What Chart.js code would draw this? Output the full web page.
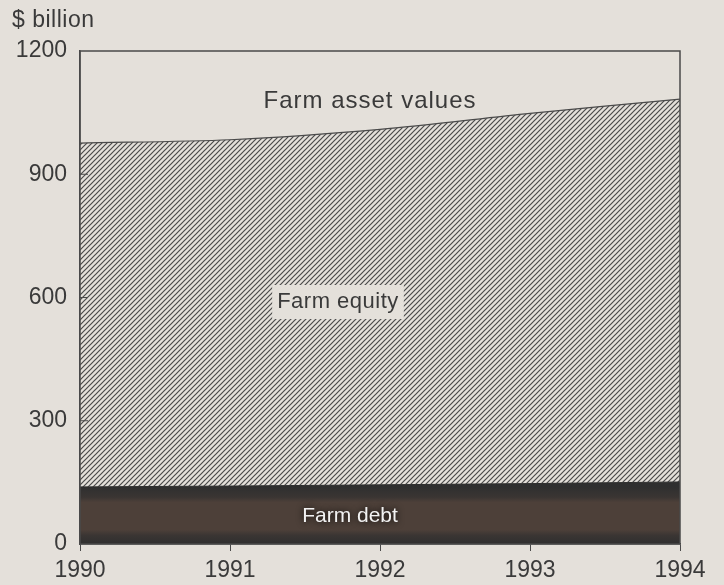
<!DOCTYPE html>
<html>
<head>
<meta charset="utf-8">
<script src="https://cdn.jsdelivr.net/npm/chart.js@4.4.1/dist/chart.umd.min.js"></script>
<style>
  html, body { margin: 0; padding: 0; background: #e4e0da; }
  #wrap { width: 724px; height: 585px; position: relative; }
</style>
</head>
<body>
<div id="wrap"><canvas id="my-chart"></canvas></div>
<script>
'use strict';

// ***** DATA *****

let years = ['1990', '1991', '1992', '1993', '1994'];
let farmDebt = [139, 141, 144, 147, 151];
let farmAssets = [976, 984, 1009, 1048, 1083];
let yTicks = [0, 300, 600, 900, 1200];

let bg = '#e4e0da';
let ink = '#3a3a3a';
let font = 'Liberation Sans, Arial, Helvetica, sans-serif';

// ***** HATCH PATTERN *****

function makeHatch(){
  let c = document.createElement('canvas');
  c.width = 5;
  c.height = 5;
  let g = c.getContext('2d');
  g.fillStyle = bg;
  g.fillRect(0, 0, 5, 5);
  g.strokeStyle = '#4a4a4a';
  g.lineWidth = 1.2;
  g.beginPath();
  g.moveTo(-1, 6); g.lineTo(6, -1);
  g.moveTo(-1, 1); g.lineTo(1, -1);
  g.moveTo(4, 6); g.lineTo(6, 4);
  g.stroke();
  return g.createPattern(c, 'repeat');
}

// debt band: dark edges, brown middle
function debtFill(context){
  let chart = context.chart;
  let area = chart.chartArea;
  if(!area) return '#3a3636';
  let top = chart.scales.y.getPixelForValue(farmDebt[0]);
  let gr = chart.ctx.createLinearGradient(0, top, 0, area.bottom);
  gr.addColorStop(0, '#2f2f2f');
  gr.addColorStop(0.18, '#3a3533');
  gr.addColorStop(0.27, '#4d4039');
  gr.addColorStop(0.75, '#4d4039');
  gr.addColorStop(0.85, '#3a3533');
  gr.addColorStop(1, '#2f2f2f');
  return gr;
}

// ***** PLUGIN: border, inner ticks, labels *****

let decor = {
  id: 'decor',
  afterDatasetsDraw(chart){
    let ctx = chart.ctx;
    let a = chart.chartArea;
    let y = chart.scales.y;
    ctx.save();

    // plot frame
    ctx.strokeStyle = '#4a4a4a';
    ctx.lineWidth = 1.5;
    ctx.strokeRect(a.left, a.top, a.right - a.left, a.bottom - a.top);

    // y ticks pointing inward
    ctx.lineWidth = 1;
    for(let i = 1; i < yTicks.length - 1; i++){
      let py = y.getPixelForValue(yTicks[i]);
      ctx.beginPath();
      ctx.moveTo(a.left, py);
      ctx.lineTo(a.left + 8, py);
      ctx.stroke();
    }

    // unit label
    ctx.fillStyle = ink;
    ctx.font = '23px ' + font;
    ctx.letterSpacing = '0.5px';
    ctx.textAlign = 'left';
    ctx.textBaseline = 'alphabetic';
    ctx.fillText('$ billion', 12, 27);

    ctx.textAlign = 'center';
    ctx.textBaseline = 'middle';

    // asset label
    ctx.font = '24px ' + font;
    ctx.letterSpacing = '1px';
    ctx.fillStyle = ink;
    ctx.fillText('Farm asset values', 370, 101);

    // equity label with plain box
    ctx.font = '22px ' + font;
    ctx.letterSpacing = '0.5px';
    let ex = 338;
    let ey = 302;
    let w = ctx.measureText('Farm equity').width;
    ctx.fillStyle = bg;
    ctx.fillRect(ex - w / 2 - 5, ey - 17, w + 10, 34);
    ctx.fillStyle = ink;
    ctx.fillText('Farm equity', ex, ey);

    // debt label, white with dark glow
    let dy = (y.getPixelForValue(farmDebt[2]) + a.bottom) / 2 + 2;
    ctx.font = '21px ' + font;
    ctx.letterSpacing = '0px';
    ctx.shadowColor = 'rgba(0,0,0,0.95)';
    ctx.shadowBlur = 7;
    ctx.fillStyle = '#f2f2f2';
    ctx.fillText('Farm debt', 350, dy);
    ctx.restore();
  }
};

// ***** CHART *****

let ctx = document.getElementById('my-chart').getContext('2d');

let myChartObj = {
  type: 'line',
  data: {
    labels: years,
    datasets: [{
      label: 'Farm debt',
      data: farmDebt,
      fill: 'origin',
      backgroundColor: debtFill,
      borderColor: '#2f2f2f',
      borderWidth: 1,
      pointRadius: 0,
      tension: 0
    },
    {
      label: 'Farm asset values',
      data: farmAssets,
      fill: '-1',
      backgroundColor: makeHatch(),
      borderColor: '#4a4a4a',
      borderWidth: 1.2,
      pointRadius: 0,
      tension: 0.3
    }]
  },
  options: {
    responsive: true,
    maintainAspectRatio: false,
    animation: false,
    layout: { padding: { top: 51, right: 44, left: 0, bottom: 0 } },
    plugins: { legend: { display: false }, tooltip: { enabled: false } },
    scales: {
      x: {
        offset: false,
        grid: { drawOnChartArea: false, tickLength: 7, color: '#4a4a4a', lineWidth: 1 },
        border: { color: '#4a4a4a', width: 1.5 },
        ticks: { color: ink, font: { family: font, size: 23 }, padding: 6, maxRotation: 0 },
        afterFit(s){ s.height = 41; }
      },
      y: {
        min: 0,
        max: 1200,
        afterBuildTicks(s){ s.ticks = yTicks.map(v => ({ value: v })); },
        grid: { display: false },
        border: { color: '#4a4a4a', width: 1.5 },
        ticks: {
          color: ink,
          font: { family: font, size: 23 },
          padding: 5,
          callback: v => String(v)
        },
        afterFit(s){ s.width = 80; }
      }
    }
  },
  plugins: [decor]
};

new Chart(ctx, myChartObj);
</script>
</body>
</html>
